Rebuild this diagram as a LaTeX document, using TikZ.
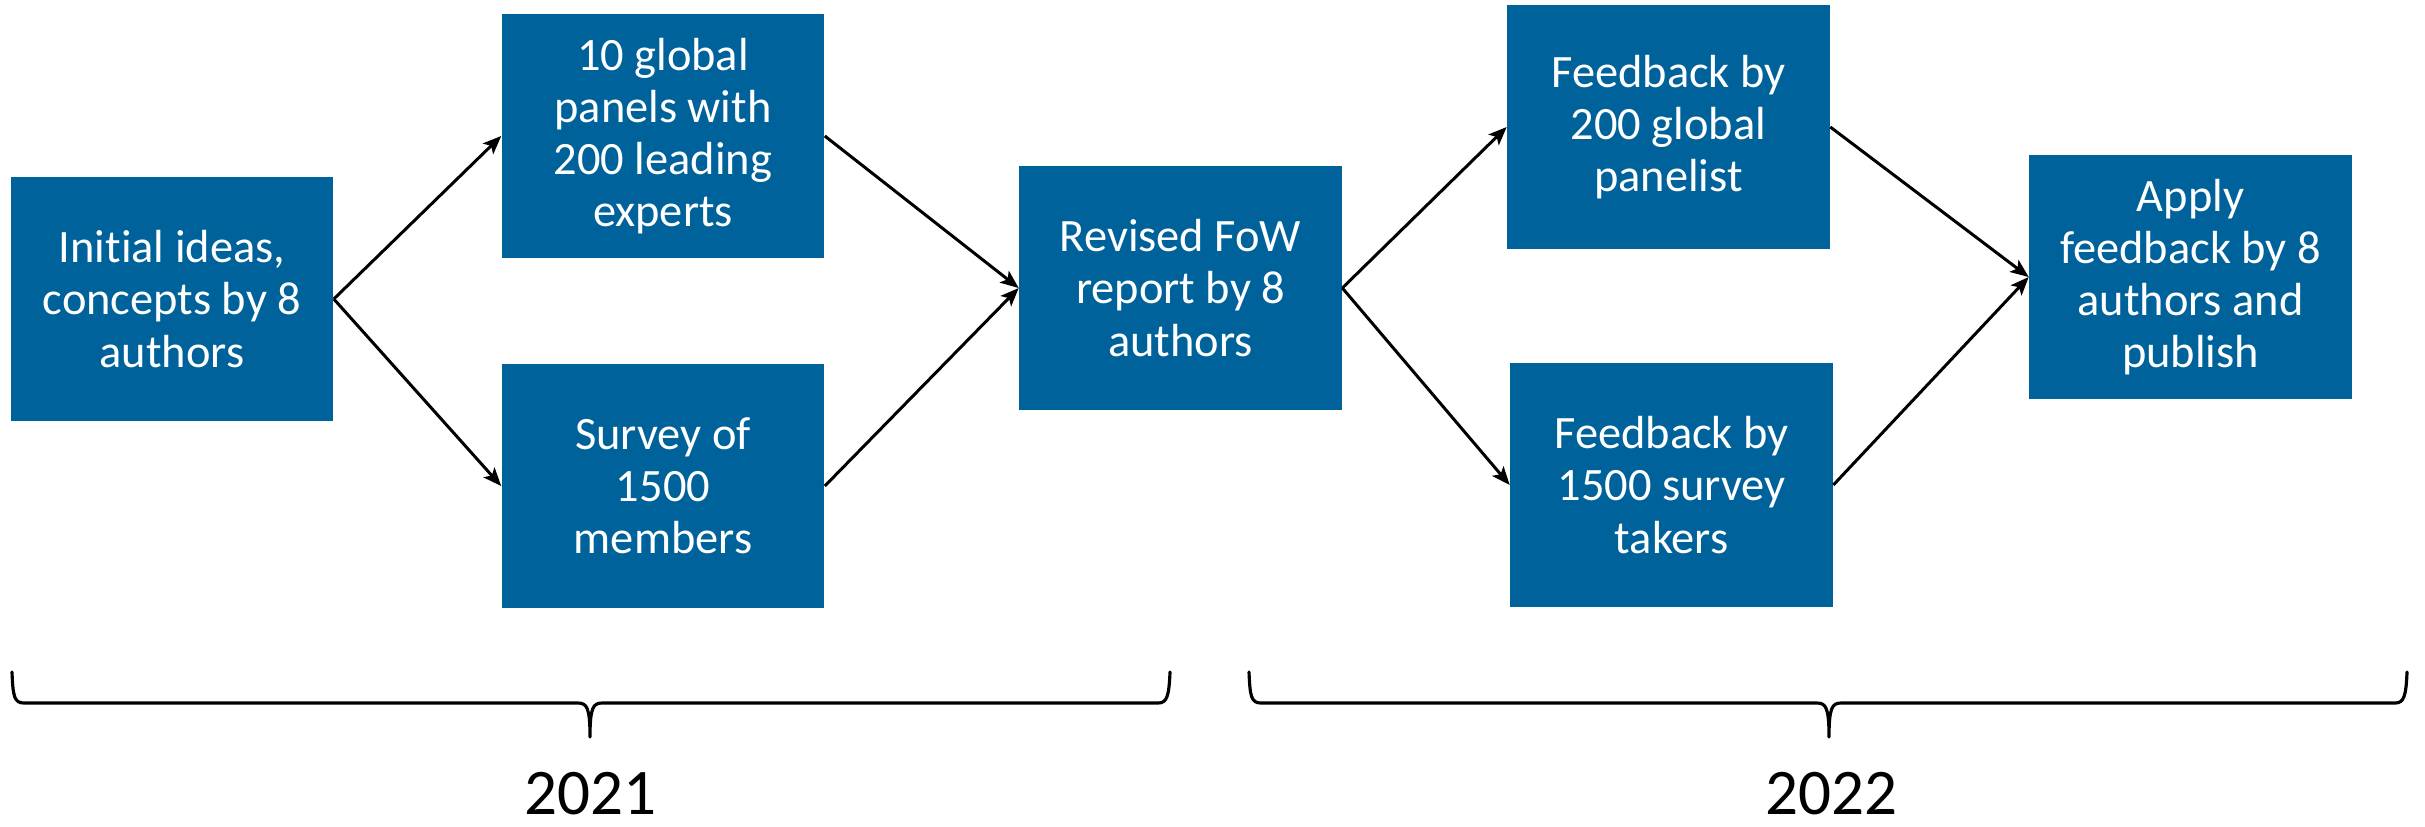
\documentclass[tikz,border=0pt]{standalone}
\usepackage{fontspec}
\setmainfont[Ligatures=NoCommon]{Carlito}
\usetikzlibrary{arrows.meta}
\definecolor{boxblue}{RGB}{0,98,155}
\begin{document}
\begin{tikzpicture}[x=0.01cm,y=-0.01cm,
  stepbox/.style={rectangle, fill=boxblue, text=white, inner sep=0pt,
    minimum width=3.22cm, minimum height=2.43cm, align=center,
    font=\fontsize{13.2pt}{14.8pt}\selectfont},
  flow/.style={draw=black, line width=0.85pt, -{Stealth[length=5.2pt,width=4.2pt,inset=1.2pt]}},
  bracestyle/.style={draw=black, line width=0.9pt, line cap=round, line join=round},
  yearlabel/.style={font=\fontsize{18.5pt}{22pt}\selectfont, inner sep=0pt, anchor=base}]
\useasboundingbox (0,0) rectangle (2425,826);
\node[stepbox] (b1) at (172,299) {Initial ideas,\\concepts by 8\\authors};
\node[stepbox] (b2) at (663,136) {10 global\\panels with\\200 leading\\experts};
\node[stepbox] (b3) at (663,486) {Survey of\\1500\\members};
\node[stepbox] (b4) at (1180.5,288) {Revised FoW\\report by 8\\authors};
\node[stepbox] (b5) at (1668.5,127) {Feedback by\\200 global\\panelist};
\node[stepbox] (b6) at (1671.5,485) {Feedback by\\1500 survey\\takers};
\node[stepbox] (b7) at (2190.5,277) {Apply\\feedback by 8\\authors and\\publish};
\draw[flow] (b1.east) -- (b2.west);
\draw[flow] (b1.east) -- (b3.west);
\draw[flow] (b2.east) -- (b4.west);
\draw[flow] (b3.east) -- (b4.west);
\draw[flow] (b4.east) -- (b5.west);
\draw[flow] (b4.east) -- (b6.west);
\draw[flow] (b5.east) -- (b7.west);
\draw[flow] (b6.east) -- (b7.west);
% braces
\coordinate (la) at (12,672);
\coordinate (lb) at (1170,672);
\coordinate (lt) at (590,737);
\coordinate (ra) at (1249,672);
\coordinate (rb) at (2407,672);
\coordinate (rt) at (1829,737);
\draw[bracestyle] (la) .. controls (13,696) and (14,703) .. (24,703) -- (578,703)
  .. controls (587,703) and (590,708) .. (lt)
  (lt) .. controls (590,708) and (593,703) .. (602,703) -- (1158,703)
  .. controls (1167,703) and (1169,696) .. (lb);
\draw[bracestyle] (ra) .. controls (1250,696) and (1251,703) .. (1261,703) -- (1817,703)
  .. controls (1826,703) and (1829,708) .. (rt)
  (rt) .. controls (1829,708) and (1832,703) .. (1841,703) -- (2395,703)
  .. controls (2404,703) and (2406,696) .. (rb);
\node[yearlabel] (y1) at (590,814) {2021};
\node[yearlabel] (y2) at (1831,814) {2022};
\end{tikzpicture}
\end{document}
